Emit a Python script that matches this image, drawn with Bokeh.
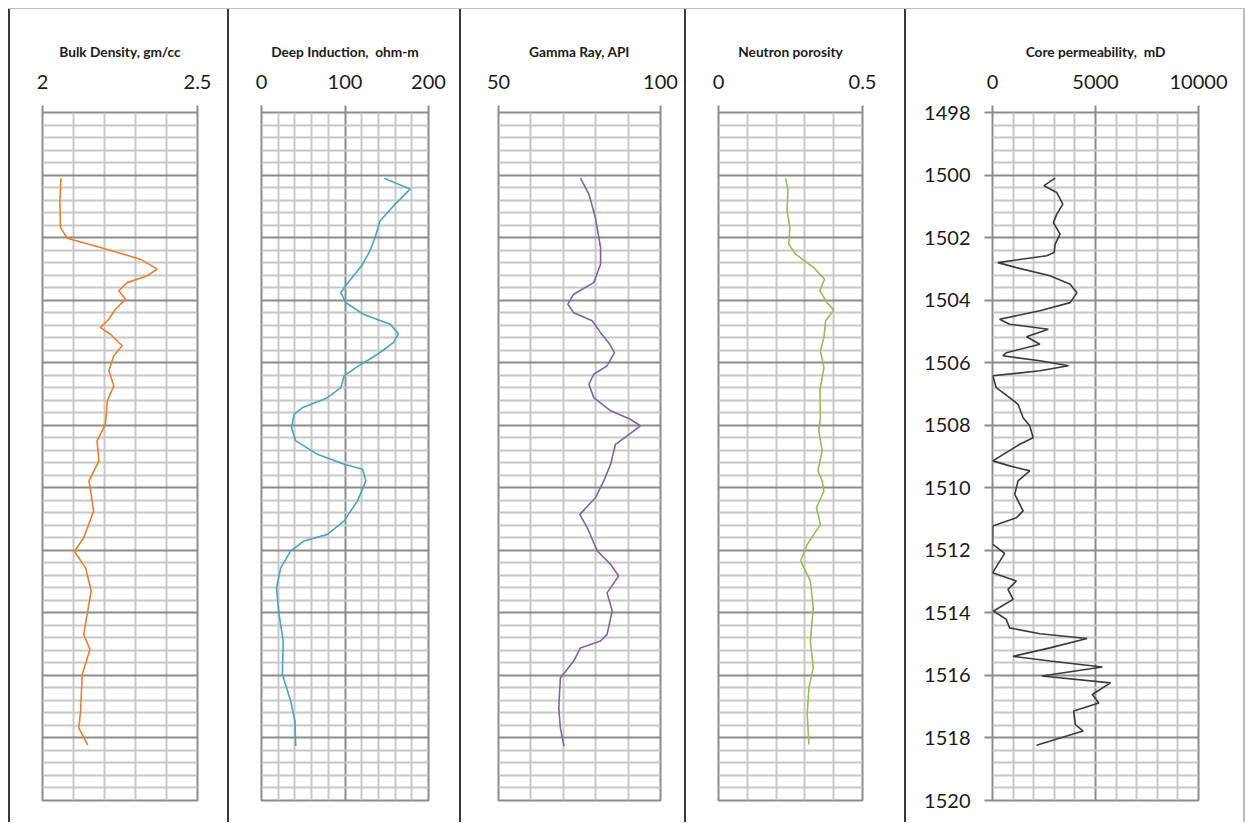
import numpy as np
from bokeh.plotting import figure
from bokeh.layouts import row, column
from bokeh.models import Range1d, FixedTicker, Grid, Div
from bokeh.embed import file_html
from bokeh.resources import INLINE

# ---------------- data ----------------
depth_ticks = [1498, 1500, 1502, 1504, 1506, 1508, 1510, 1512, 1514, 1516, 1518, 1520]

titles = ["Bulk Density, gm/cc", "Deep Induction,\u00a0 ohm-m", "Gamma Ray, API",
          "Neutron porosity", "Core permeability,\u00a0 mD"]
x_limits = [(2.0, 2.5), (0, 200), (50, 100), (0, 0.5), (0, 10000)]
x_tick_values = [[2.0, 2.5], [0, 100, 200], [50, 100], [0, 0.5], [0, 5000, 10000]]
x_tick_labels = [["2", "2.5"], ["0", "100", "200"], ["50", "100"], ["0", "0.5"],
                 ["0", "5000", "10000"]]

bd_depth = [1500.1, 1500.82, 1501.68, 1502.02, 1502.32, 1502.69, 1503.01, 1503.22, 1503.44, 1503.7,
            1503.97, 1504.29, 1504.61, 1504.88, 1505.09, 1505.46, 1505.78, 1506.26, 1506.74, 1507.22,
            1507.97, 1508.5, 1509.14, 1509.78, 1510.74, 1511.6, 1512.04, 1512.56, 1513.3, 1514.69,
            1515.17, 1515.97, 1517.14, 1517.68, 1518.23]
bd_val = [2.06, 2.056, 2.058, 2.08, 2.187, 2.316, 2.37, 2.338, 2.273, 2.246,
          2.268, 2.235, 2.214, 2.187, 2.219, 2.257, 2.23, 2.214, 2.23, 2.209,
          2.203, 2.176, 2.182, 2.15, 2.165, 2.133, 2.103, 2.139, 2.157, 2.133,
          2.153, 2.128, 2.123, 2.117, 2.146]

di_depth = [1500.1, 1500.45, 1500.88, 1501.46, 1502.0, 1502.42, 1502.9, 1503.49, 1503.76, 1504.08,
            1504.45, 1504.77, 1505.07, 1505.36, 1505.73, 1506.16, 1506.42, 1506.8, 1507.12, 1507.44,
            1507.65, 1508.08, 1508.5, 1508.93, 1509.25, 1509.41, 1509.78, 1510.42, 1511.06, 1511.49,
            1511.7, 1512.02, 1512.56, 1513.2, 1514.05, 1514.9, 1515.97, 1516.82, 1517.46, 1518.26]
di_val = [147, 178, 162, 142, 136, 130, 120, 102, 95, 101,
          122, 154, 164, 158, 139, 113, 99, 95, 79, 49,
          39, 36, 41, 67, 99, 121, 125, 115, 99, 79,
          51, 35, 23, 18, 21, 26, 25, 35, 40, 41]

gr_depth = [1500.1, 1500.61, 1501.36, 1502.32, 1502.85, 1503.44, 1503.81, 1504.13, 1504.4, 1504.66,
            1505.04, 1505.36, 1505.68, 1506.1, 1506.37, 1506.69, 1507.12, 1507.54, 1507.81, 1508.02,
            1508.34, 1508.61, 1509.25, 1509.78, 1510.32, 1510.85, 1511.28, 1512.02, 1512.45, 1512.82,
            1513.36, 1513.94, 1514.69, 1514.9, 1515.12, 1515.54, 1516.08, 1517.04, 1517.68, 1518.26]
gr_val = [75.3, 77.9, 79.9, 81.5, 81.5, 79.4, 73.2, 71.4, 73.2, 78.9,
          81.5, 84.0, 85.8, 83.5, 79.4, 77.9, 79.4, 84.6, 90.7, 93.8,
          89.7, 86.1, 84.6, 82.5, 79.9, 75.1, 77.4, 80.5, 84.6, 87.1,
          83.5, 85.1, 83.5, 81.5, 75.3, 73.2, 69.1, 68.6, 69.1, 70.2]

np_depth = [1500.1, 1500.5, 1501.14, 1501.68, 1502.21, 1502.53, 1502.96, 1503.33, 1503.7, 1504.08,
            1504.32, 1504.66, 1505.2, 1505.62, 1506.16, 1506.9, 1507.76, 1508.18, 1508.82, 1509.46,
            1509.78, 1510.1, 1510.64, 1511.17, 1511.81, 1512.34, 1512.98, 1513.84, 1514.9, 1515.76,
            1516.4, 1517.25, 1518.21]
np_val = [0.233, 0.241, 0.238, 0.248, 0.244, 0.267, 0.331, 0.368, 0.352, 0.377,
          0.4, 0.372, 0.366, 0.354, 0.366, 0.352, 0.354, 0.348, 0.36, 0.345,
          0.36, 0.366, 0.34, 0.354, 0.308, 0.285, 0.319, 0.329, 0.319, 0.329,
          0.314, 0.308, 0.314]

cp_depth = [1500.1, 1500.34, 1500.56, 1500.93, 1501.25, 1501.52, 1501.89, 1502.21, 1502.48, 1502.58,
            1502.8, 1502.96, 1503.22, 1503.49, 1503.76, 1504.08, 1504.34, 1504.61, 1504.77, 1504.93,
            1505.17, 1505.41, 1505.68, 1505.78, 1505.94, 1506.1, 1506.26, 1506.42, 1506.8, 1507.12,
            1507.33, 1507.76, 1508.02, 1508.4, 1508.61, 1509.14, 1509.3, 1509.46, 1509.78, 1510.21,
            1510.74, 1510.96, 1511.22, 1511.8, 1512.1, 1512.72, 1512.98, 1513.25, 1513.57, 1513.94,
            1514.21, 1514.48, 1514.67, 1514.82, 1515.12, 1515.39, 1515.54, 1515.73, 1516.02, 1516.24,
            1516.61, 1516.88, 1517.14, 1517.57, 1517.78, 1518.23]
cp_val = [3040, 2500, 3120, 3415, 3120, 2955, 3280, 3040, 2990, 2630,
          260, 1160, 2790, 3770, 4100, 3770, 2300, 345, 830, 2710,
          1650, 2300, 670, 505, 2300, 3690, 2300, 15, 180, 830,
          1240, 1485, 1810, 1975, 1320, 15, 830, 1810, 1240, 1080,
          1485, 1160, 15, 0, 590, 0, 1160, 750, 1000, 50,
          670, 830, 2300, 4590, 2790, 1000, 2790, 5325, 2390, 5730,
          4840, 5160, 3940, 4020, 4400, 2140]

track_depths = [bd_depth, di_depth, gr_depth, np_depth, cp_depth]
track_values = [bd_val, di_val, gr_val, np_val, cp_val]
track_colors = ["#ED7D31", "#4BA3BD", "#7F64A2", "#9BBB59", "#3A3A3A"]

# ---------------- layout / style ----------------
FONT = "Lato"
MAJOR_C = "#8c8c8c"
MINOR_C = "#c8c8c8"
DIV_C = "#3a3a3a"
TOP, FRAME_H, BOTTOM = 103, 688, 22
H = TOP + FRAME_H + BOTTOM

# (figure width, left border, right border, vertical grid step, major vertical lines)
geom = [
    (217, 32, 30, 0.1, []),
    (230, 32, 31, 20, [100]),
    (223, 37, 24, 10, []),
    (218, 32, 42, 0.1, []),
    (337, 86, 45, 1000, [5000]),
]

depth_major = list(range(1498, 1521, 2))
depth_minor = [round(1498 + 0.4 * i, 2) for i in range(56)]
depth_minor = [d for d in depth_minor if abs(d - round(d / 2) * 2) > 1e-6]


def make_track(i):
    w, bl, br, step, vmaj = geom[i]
    lo, hi = x_limits[i]
    show_depth = (i == 4)
    p = figure(width=w, height=H, output_backend="svg", toolbar_location=None,
               x_range=Range1d(lo, hi), y_range=Range1d(1520, 1498),
               x_axis_location="above", y_axis_location="left" if show_depth else None,
               min_border_left=bl, min_border_right=br,
               min_border_top=TOP, min_border_bottom=BOTTOM,
               background_fill_color="white", border_fill_color="white")
    p.grid.grid_line_color = None

    # vertical grid
    n = int(round((hi - lo) / step))
    vlines = [lo + step * k for k in range(1, n)]
    vminor = [v for v in vlines if all(abs(v - m) > 1e-9 for m in vmaj)]
    vg = Grid(dimension=0, ticker=FixedTicker(ticks=vmaj if vmaj else [lo], minor_ticks=vminor),
              grid_line_color=MAJOR_C if vmaj else None, grid_line_width=2,
              minor_grid_line_color=MINOR_C, minor_grid_line_width=2)
    p.add_layout(vg)
    # horizontal grid
    hg = Grid(dimension=1, ticker=FixedTicker(ticks=depth_major, minor_ticks=depth_minor),
              grid_line_color=MAJOR_C, grid_line_width=2,
              minor_grid_line_color=MINOR_C, minor_grid_line_width=2)
    p.add_layout(hg)

    p.outline_line_color = MAJOR_C
    p.outline_line_width = 2

    xa = p.xaxis[0]
    xa.ticker = FixedTicker(ticks=x_tick_values[i])
    xa.major_label_overrides = {v: s for v, s in zip(x_tick_values[i], x_tick_labels[i])}
    xa.axis_line_color = None
    xa.major_tick_line_color = MAJOR_C
    xa.major_tick_line_width = 2
    xa.major_tick_in = 0
    xa.major_tick_out = 7
    xa.minor_tick_line_color = None
    xa.major_label_text_font = FONT
    xa.major_label_text_font_size = "20px"
    xa.major_label_text_color = "#1a1a1a"
    xa.major_label_standoff = 17
    xa.axis_label = titles[i]
    xa.axis_label_text_font = FONT
    xa.axis_label_text_font_size = "13.7px"
    xa.axis_label_text_font_style = "bold"
    xa.axis_label_text_color = "#1a1a1a"
    xa.axis_label_standoff = 12

    if show_depth:
        ya = p.yaxis[0]
        ya.ticker = FixedTicker(ticks=depth_ticks)
        ya.axis_line_color = None
        ya.major_tick_line_color = MAJOR_C
        ya.major_tick_line_width = 2
        ya.major_tick_in = 0
        ya.major_tick_out = 8
        ya.minor_tick_line_color = None
        ya.major_label_text_font = FONT
        ya.major_label_text_font_size = "20px"
        ya.major_label_text_color = "#1a1a1a"
        ya.major_label_standoff = 14

    p.line(x=track_values[i], y=track_depths[i], line_color=track_colors[i], line_width=1.6)
    return p


def sep(color=DIV_C, w=2):
    return Div(width=w, height=H, styles={"background-color": color}, margin=0)


tracks = [make_track(i) for i in range(5)]
items = [sep()]
for k, t in enumerate(tracks):
    items.append(t)
    items.append(sep() if k < 4 else sep("#bdbdbd", 2))
body = row(*items, spacing=0)
total_w = 2 * 6 + sum(g[0] for g in geom)
top_line = Div(width=total_w, height=1, styles={"background-color": "#bdbdbd"}, margin=0)
layout = column(top_line, body, spacing=0, margin=(8, 0, 0, 8))

with open("out.html", "w") as f:
    f.write(file_html(layout, INLINE))
